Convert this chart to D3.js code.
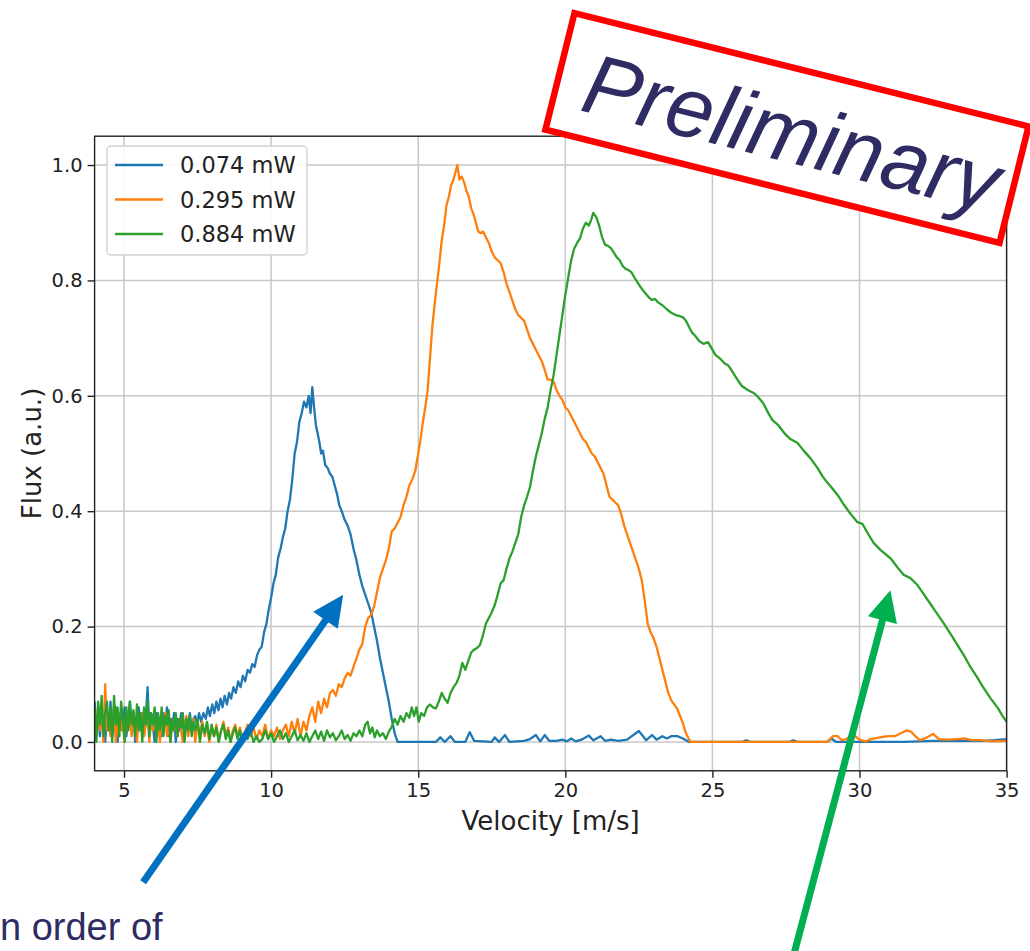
<!DOCTYPE html>
<html><head><meta charset="utf-8">
<script src="https://cdn.jsdelivr.net/npm/d3@7"></script>
<style>body{margin:0;background:#fff;overflow:hidden} svg{display:block}</style>
</head><body><svg id="c" width="1030" height="951"></svg>
<script>
// ---------------- data ----------------
const seriesLabels = ["0.074 mW", "0.295 mW", "0.884 mW"];
const seriesColors = ["#1f77b4", "#ff7f0e", "#2ca02c"];
const xTicks = [5, 10, 15, 20, 25, 30, 35];
const yTicks = [0.0, 0.2, 0.4, 0.6, 0.8, 1.0];
const xLabel = "Velocity [m/s]";
const yLabel = "Flux (a.u.)";

// [velocity, flux]
const flux074 = [
[4.00,0.07],[4.06,0.02],[4.12,0.05],[4.18,0.01],[4.24,0.06],[4.30,0.03],[4.36,0.00],[4.42,0.05],[4.48,0.02],[4.54,0.07],[4.60,0.01],[4.66,0.04],[4.72,0.06],[4.78,0.00],[4.84,0.03],[4.90,0.05],[4.96,0.02],[5.02,0.06],[5.08,0.01],[5.14,0.04],[5.20,0.07],[5.26,0.02],[5.32,0.05],[5.38,0.00],[5.44,0.04],[5.50,0.06],[5.56,0.02],[5.62,0.05],[5.68,0.01],[5.74,0.04],[5.80,0.095],[5.86,0.02],[5.92,0.05],[5.98,0.03],[6.04,0.00],[6.10,0.05],[6.16,0.02],[6.22,0.04],[6.28,0.01],[6.34,0.05],[6.40,0.03],[6.46,0.06],[6.52,0.01],[6.58,0.04],[6.64,0.02],[6.70,0.05],[6.76,0.00],[6.82,0.04],[6.88,0.02],[6.94,0.05],[7.00,0.03],[7.06,0.01],[7.12,0.04],[7.18,0.03],[7.24,0.05],[7.30,0.02],[7.36,0.04],
[7.42,0.045],[7.48,0.03],[7.55,0.05],[7.62,0.035],[7.70,0.05],[7.78,0.04],[7.85,0.06],[7.92,0.045],[8.00,0.065],[8.07,0.05],[8.14,0.07],[8.21,0.055],[8.28,0.075],[8.35,0.06],[8.42,0.08],[8.50,0.065],[8.57,0.085],[8.64,0.075],[8.72,0.095],[8.80,0.085],[8.88,0.105],[8.96,0.095],[9.04,0.115],[9.12,0.105],[9.20,0.125],[9.28,0.12],[9.36,0.135],[9.44,0.13],[9.52,0.15],[9.60,0.16],[9.68,0.165],[9.76,0.19],[9.84,0.205],[9.92,0.23],[10.00,0.25],[10.08,0.275],[10.16,0.29],[10.24,0.32],[10.32,0.335],[10.40,0.355],[10.48,0.37],[10.56,0.40],[10.64,0.42],[10.72,0.455],[10.80,0.50],[10.88,0.52],[10.96,0.555],[11.04,0.57],[11.12,0.59],[11.20,0.58],[11.28,0.60],[11.34,0.57],[11.40,0.615],[11.46,0.58],[11.52,0.55],[11.58,0.535],[11.64,0.52],[11.70,0.50],[11.76,0.505],[11.84,0.48],[11.92,0.475],[12.00,0.465],[12.08,0.46],[12.16,0.445],[12.24,0.43],[12.32,0.41],[12.40,0.40],[12.50,0.385],[12.60,0.375],[12.70,0.36],[12.80,0.335],[12.90,0.315],[13.00,0.29],[13.10,0.27],[13.20,0.255],[13.30,0.24],[13.40,0.225],[13.50,0.20],[13.60,0.175],[13.70,0.145],[13.80,0.12],[13.90,0.095],[14.00,0.07],[14.10,0.04],[14.20,0.015],[14.30,0.0],
[14.6,0],[15.0,0],[15.6,0],[15.75,0.008],[15.9,0],[16.1,0.01],[16.25,0],[16.6,0],[16.75,0.017],[16.9,0.002],[17.5,0],[17.6,0.008],[17.75,0],[17.95,0.012],[18.1,0],[18.6,0.002],[18.8,0.005],[19.0,0.012],[19.15,0.001],[19.3,0.012],[19.45,0.002],[19.7,0.002],[19.9,0.004],[20.05,0.001],[20.2,0.006],[20.35,0.001],[20.55,0.004],[20.8,0.011],[20.95,0.003],[21.2,0.01],[21.35,0.002],[21.55,0.004],[21.8,0.002],[22.1,0.004],[22.5,0.019],[22.75,0.003],[22.95,0.012],[23.1,0.004],[23.3,0.01],[23.45,0.006],[23.6,0.01],[23.8,0.01],[24.0,0.006],[24.2,0],[26.0,0],[26.15,0.003],[26.3,0],[27.6,0],[27.75,0.003],[27.9,0],[28.9,0],[29.05,0.006],[29.2,0],[31.5,0],[32.5,0.002],[34.2,0.002],[34.6,0.003],[35.0,0.005]
];

const flux295 = [
[4.00,0.04],[4.06,0.01],[4.12,0.06],[4.18,0.02],[4.24,0.05],[4.30,0.00],[4.36,0.10],[4.42,0.02],[4.48,0.05],[4.54,0.01],[4.60,0.04],[4.66,0.06],[4.72,0.00],[4.78,0.03],[4.84,0.05],[4.90,0.02],[4.96,0.04],[5.02,0.00],[5.08,0.05],[5.14,0.02],[5.20,0.04],[5.26,0.01],[5.32,0.05],[5.38,0.03],[5.44,0.00],[5.50,0.04],[5.56,0.02],[5.62,0.05],[5.68,0.01],[5.74,0.03],[5.80,0.05],[5.86,0.00],[5.92,0.04],[5.98,0.02],[6.04,0.045],[6.10,0.01],[6.16,0.035],[6.22,0.00],[6.28,0.04],[6.34,0.02],[6.40,0.05],[6.46,0.01],[6.52,0.03],[6.58,0.00],[6.64,0.04],[6.70,0.02],[6.76,0.035],[6.82,0.01],[6.88,0.04],[6.94,0.02],[7.00,0.00],[7.06,0.03],[7.12,0.045],[7.18,0.01],[7.24,0.03],[7.30,0.02],[7.36,0.04],[7.42,0.00],[7.50,0.03],[7.58,0.015],[7.66,0.035],[7.74,0.01],[7.82,0.03],[7.90,0.00],[7.98,0.025],[8.06,0.01],[8.14,0.03],[8.22,0.00],[8.30,0.02],[8.38,0.035],[8.46,0.01],[8.54,0.025],[8.62,0.00],[8.70,0.02],[8.78,0.03],[8.86,0.01],[8.94,0.025],[9.02,0.00],[9.10,0.015],[9.20,0.03],[9.30,0.01],[9.40,0.025],[9.50,0.005],[9.60,0.02],[9.70,0.01],[9.80,0.03],[9.90,0.005],[10.00,0.02],[10.10,0.01],[10.20,0.025],[10.30,0.005],[10.40,0.02],[10.50,0.03],[10.60,0.01],[10.70,0.035],[10.80,0.015],[10.90,0.04],[11.00,0.01],[11.10,0.035],[11.20,0.02],[11.30,0.045],
[11.40,0.06],[11.50,0.035],[11.60,0.07],[11.70,0.05],[11.80,0.075],[11.90,0.06],[12.00,0.085],[12.10,0.09],[12.20,0.08],[12.30,0.10],[12.40,0.095],[12.50,0.11],[12.60,0.12],[12.70,0.115],[12.80,0.13],[12.90,0.145],[13.00,0.16],[13.10,0.17],[13.20,0.20],[13.30,0.215],[13.40,0.22],[13.50,0.235],[13.60,0.26],[13.70,0.285],[13.80,0.30],[13.90,0.315],[14.00,0.335],[14.10,0.365],[14.20,0.37],[14.30,0.38],[14.40,0.39],[14.50,0.41],[14.60,0.425],[14.70,0.445],[14.80,0.455],[14.90,0.47],[15.00,0.50],[15.08,0.525],[15.16,0.555],[15.24,0.58],[15.32,0.61],[15.40,0.665],[15.48,0.72],[15.56,0.76],[15.64,0.795],[15.72,0.83],[15.80,0.87],[15.88,0.895],[15.96,0.93],[16.04,0.945],[16.12,0.965],[16.20,0.975],[16.28,0.99],[16.33,1.0],[16.40,0.975],[16.48,0.98],[16.56,0.97],[16.64,0.955],[16.72,0.945],[16.80,0.925],[16.88,0.915],[16.96,0.90],[17.04,0.885],[17.12,0.882],[17.20,0.885],[17.30,0.875],[17.40,0.865],[17.50,0.85],[17.60,0.84],[17.70,0.835],[17.80,0.83],[17.90,0.815],[18.00,0.795],[18.10,0.78],[18.20,0.765],[18.30,0.75],[18.40,0.74],[18.50,0.735],[18.60,0.73],[18.70,0.715],[18.80,0.70],[18.90,0.69],[19.00,0.68],[19.10,0.67],[19.20,0.66],[19.30,0.645],[19.40,0.628],[19.50,0.628],[19.60,0.625],[19.70,0.61],[19.80,0.60],[19.90,0.593],[20.00,0.58],[20.10,0.575],[20.20,0.565],[20.30,0.555],[20.40,0.545],[20.50,0.535],[20.60,0.525],[20.70,0.52],[20.80,0.51],[20.90,0.50],[21.00,0.495],[21.10,0.485],[21.20,0.475],[21.30,0.465],[21.40,0.445],[21.50,0.425],[21.60,0.42],[21.70,0.415],[21.80,0.41],[21.90,0.395],[22.00,0.375],[22.10,0.36],[22.20,0.345],[22.30,0.33],[22.40,0.315],[22.50,0.30],[22.60,0.28],[22.70,0.245],[22.80,0.205],[22.90,0.19],[23.00,0.18],[23.10,0.165],[23.20,0.145],[23.30,0.125],[23.40,0.105],[23.50,0.085],[23.60,0.072],[23.70,0.065],[23.80,0.058],[23.90,0.045],[24.00,0.032],[24.10,0.015],[24.25,0.0],
[25.0,0],[27.0,0],[28.9,0],[29.1,0.01],[29.25,0.01],[29.4,0.003],[29.55,0.005],[29.7,0.01],[29.85,0.01],[30.0,0.004],[30.2,0.001],[30.4,0.005],[30.6,0.007],[30.8,0.009],[31.0,0.01],[31.2,0.01],[31.4,0.015],[31.6,0.02],[31.75,0.018],[31.9,0.01],[32.05,0.003],[32.3,0.008],[32.5,0.014],[32.7,0.005],[33.0,0.004],[33.3,0.005],[33.6,0.006],[33.8,0.003],[34.1,0.003],[34.5,0.001],[35.0,0.002]
];

const flux884 = [
[4.00,0.06],[4.06,0.00],[4.12,0.07],[4.18,0.03],[4.24,0.08],[4.30,0.01],[4.36,0.05],[4.42,0.07],[4.48,0.02],[4.54,0.06],[4.60,0.00],[4.66,0.08],[4.72,0.03],[4.78,0.06],[4.84,0.01],[4.90,0.07],[4.96,0.04],[5.02,0.00],[5.08,0.06],[5.14,0.02],[5.20,0.07],[5.26,0.03],[5.32,0.055],[5.38,0.01],[5.44,0.065],[5.50,0.02],[5.56,0.05],[5.62,0.00],[5.68,0.06],[5.74,0.03],[5.80,0.07],[5.86,0.01],[5.92,0.05],[5.98,0.03],[6.04,0.06],[6.10,0.00],[6.16,0.05],[6.22,0.02],[6.28,0.06],[6.34,0.01],[6.40,0.045],[6.46,0.03],[6.52,0.055],[6.58,0.00],[6.64,0.04],[6.70,0.02],[6.76,0.05],[6.82,0.01],[6.88,0.04],[6.94,0.025],[7.00,0.05],[7.06,0.00],[7.12,0.04],[7.18,0.02],[7.24,0.045],[7.30,0.01],[7.36,0.035],[7.42,0.02],[7.50,0.04],[7.58,0.00],[7.66,0.03],[7.74,0.015],[7.82,0.035],[7.90,0.005],[7.98,0.03],[8.06,0.01],[8.14,0.025],[8.22,0.00],[8.30,0.02],[8.38,0.03],[8.46,0.005],[8.54,0.02],[8.62,0.00],[8.70,0.015],[8.78,0.025],[8.86,0.005],[8.94,0.02],[9.02,0.00],[9.10,0.015],[9.20,0.005],[9.30,0.02],[9.40,0.0],[9.50,0.01],[9.60,0.0],[9.70,0.005],[9.80,0.02],[9.90,0.005],[10.00,0.015],[10.10,0.0],[10.20,0.01],[10.30,0.02],[10.40,0.005],[10.50,0.015],[10.60,0.0],[10.70,0.01],[10.80,0.02],[10.90,0.003],[11.00,0.012],[11.10,0.002],[11.20,0.015],[11.30,0.0],[11.40,0.01],[11.50,0.02],[11.60,0.005],[11.70,0.018],[11.80,0.002],[11.90,0.02],[12.00,0.008],[12.10,0.015],[12.20,0.003],[12.30,0.01],[12.40,0.02],[12.50,0.005],[12.60,0.012],[12.70,0.002],[12.80,0.015],[12.90,0.01],[13.00,0.02],[13.10,0.01],[13.20,0.03],[13.28,0.035],[13.36,0.015],[13.44,0.025],[13.52,0.008],[13.60,0.02],[13.70,0.01],[13.80,0.015],[13.90,0.005],[14.00,0.018],[14.10,0.026],[14.20,0.04],[14.30,0.03],[14.40,0.045],[14.50,0.035],[14.60,0.05],[14.70,0.042],[14.78,0.06],[14.86,0.045],[14.94,0.06],[15.02,0.035],[15.10,0.05],[15.20,0.045],[15.30,0.06],[15.40,0.065],[15.50,0.06],[15.60,0.058],[15.70,0.07],[15.80,0.085],[15.90,0.075],[16.00,0.068],[16.10,0.085],[16.20,0.095],[16.30,0.102],[16.40,0.115],[16.50,0.137],[16.60,0.125],[16.70,0.14],[16.80,0.155],[16.90,0.16],[17.00,0.163],[17.10,0.168],[17.20,0.185],[17.30,0.205],[17.40,0.215],[17.50,0.225],[17.60,0.237],[17.70,0.255],[17.80,0.275],[17.90,0.28],[18.00,0.30],[18.10,0.318],[18.20,0.33],[18.30,0.345],[18.40,0.36],[18.50,0.39],[18.60,0.41],[18.70,0.425],[18.80,0.442],[18.90,0.47],[19.00,0.495],[19.10,0.515],[19.20,0.535],[19.30,0.56],[19.40,0.58],[19.50,0.61],[19.60,0.635],[19.70,0.67],[19.80,0.705],[19.90,0.74],[20.00,0.775],[20.10,0.805],[20.20,0.835],[20.30,0.855],[20.40,0.865],[20.50,0.873],[20.60,0.89],[20.70,0.90],[20.80,0.895],[20.88,0.905],[20.95,0.917],[21.05,0.91],[21.15,0.895],[21.25,0.875],[21.35,0.862],[21.45,0.86],[21.55,0.856],[21.65,0.848],[21.75,0.84],[21.85,0.835],[21.95,0.825],[22.05,0.82],[22.15,0.818],[22.25,0.814],[22.35,0.805],[22.45,0.797],[22.55,0.789],[22.65,0.782],[22.75,0.776],[22.85,0.77],[22.95,0.766],[23.05,0.768],[23.15,0.762],[23.30,0.757],[23.45,0.75],[23.60,0.744],[23.75,0.74],[23.90,0.738],[24.00,0.736],[24.10,0.73],[24.20,0.72],[24.30,0.71],[24.40,0.705],[24.55,0.695],[24.70,0.69],[24.85,0.693],[25.00,0.68],[25.10,0.671],[25.25,0.665],[25.40,0.657],[25.55,0.652],[25.70,0.64],[25.85,0.628],[26.00,0.617],[26.20,0.61],[26.40,0.605],[26.55,0.598],[26.73,0.587],[26.90,0.57],[27.04,0.558],[27.24,0.549],[27.45,0.535],[27.65,0.525],[27.90,0.518],[28.10,0.505],[28.33,0.492],[28.57,0.475],[28.75,0.46],[28.90,0.45],[29.10,0.438],[29.30,0.425],[29.46,0.412],[29.70,0.395],[29.93,0.381],[30.10,0.378],[30.30,0.36],[30.48,0.345],[30.71,0.333],[31.06,0.318],[31.30,0.302],[31.50,0.29],[31.73,0.284],[31.97,0.272],[32.20,0.255],[32.40,0.24],[32.60,0.225],[32.86,0.206],[33.10,0.187],[33.33,0.168],[33.55,0.15],[33.77,0.13],[34.00,0.112],[34.20,0.095],[34.45,0.076],[34.70,0.059],[34.85,0.046],[35.00,0.035]
];

const seriesData = [flux074, flux295, flux884];

// annotation arrows in data coordinates: [tailV, tailF, tipV, tipF]
const arrowBlue = [5.65, -0.243, 12.45, 0.255];
const arrowGreen = [27.5, -0.42, 31.05, 0.263];
const stampText = "Preliminary";
const bottomText = "n order of";

// ---------------- drawing ----------------
const svg = d3.select("#c");
const x = d3.scaleLinear().domain([4, 35]).range([94.6, 1006.6]);
const y = d3.scaleLinear().domain([-0.05, 1.05]).range([770.8, 136.2]);
const [L, R] = x.range();
const [B, T] = y.range();

svg.append("defs").append("clipPath").attr("id", "clip")
  .append("rect").attr("x", L).attr("y", T).attr("width", R - L).attr("height", B - T);

// grid
const grid = svg.append("g");
grid.selectAll("line.gx").data(xTicks).join("line")
  .attr("x1", d => x(d)).attr("x2", d => x(d)).attr("y1", T).attr("y2", B)
  .attr("stroke", "#c8c8c8").attr("stroke-width", 1.5);
grid.selectAll("line.gy").data(yTicks).join("line")
  .attr("y1", d => y(d)).attr("y2", d => y(d)).attr("x1", L).attr("x2", R)
  .attr("stroke", "#c8c8c8").attr("stroke-width", 1.5);

// lines
const line = d3.line().x(d => x(d[0])).y(d => y(d[1]));
const lines = svg.append("g").attr("clip-path", "url(#clip)");
seriesData.forEach((s, i) => {
  lines.append("path").datum(s).attr("d", line)
    .attr("fill", "none").attr("stroke", seriesColors[i])
    .attr("stroke-width", 2.3).attr("stroke-linejoin", "round");
});

// axes
const fontTick = "19.5px 'DejaVu Sans'";
const xAxis = svg.append("g").attr("transform", `translate(0,${B})`)
  .call(d3.axisBottom(x).tickValues(xTicks).tickFormat(d3.format("d")).tickSize(7).tickPadding(5));
const yAxis = svg.append("g").attr("transform", `translate(${L},0)`)
  .call(d3.axisLeft(y).tickValues(yTicks).tickFormat(d3.format(".1f")).tickSize(7).tickPadding(5));
[xAxis, yAxis].forEach(a => {
  a.select(".domain").remove();
  a.selectAll(".tick line").attr("stroke", "#222").attr("stroke-width", 1.4);
  a.selectAll(".tick text").attr("fill", "#222").style("font", fontTick);
});

// spines
svg.append("rect").attr("x", L).attr("y", T).attr("width", R - L).attr("height", B - T)
  .attr("fill", "none").attr("stroke", "#222").attr("stroke-width", 1.4);

// axis labels
svg.append("text").attr("x", (L + R) / 2).attr("y", 830).attr("text-anchor", "middle")
  .style("font", "26px 'DejaVu Sans'").attr("fill", "#222").text(xLabel);
svg.append("text").attr("transform", `translate(41,${(T + B) / 2}) rotate(-90)`)
  .attr("text-anchor", "middle").style("font", "26px 'DejaVu Sans'").attr("fill", "#222").text(yLabel);

// legend
const lg = svg.append("g");
lg.append("rect").attr("x", 107).attr("y", 146).attr("width", 200).attr("height", 109).attr("rx", 4)
  .attr("fill", "#fff").attr("fill-opacity", 0.85).attr("stroke", "#d0d0d0").attr("stroke-width", 1.3);
seriesLabels.forEach((lab, i) => {
  const yy = 165 + i * 34.5;
  lg.append("line").attr("x1", 115).attr("x2", 163).attr("y1", yy).attr("y2", yy)
    .attr("stroke", seriesColors[i]).attr("stroke-width", 2.3);
  lg.append("text").attr("x", 180).attr("y", yy + 8).style("font", "22.5px 'DejaVu Sans'")
    .attr("fill", "#222").text(lab);
});

// arrows
function arrow(a, color) {
  const x1 = x(a[0]), y1 = y(a[1]), x2 = x(a[2]), y2 = y(a[3]);
  const dx = x2 - x1, dy = y2 - y1, len = Math.hypot(dx, dy);
  const ux = dx / len, uy = dy / len, px = -uy, py = ux;
  const hl = 31, hw = 15;
  const bx = x2 - ux * hl, by = y2 - uy * hl;
  svg.append("line").attr("x1", x1).attr("y1", y1).attr("x2", bx + ux * 2).attr("y2", by + uy * 2)
    .attr("stroke", color).attr("stroke-width", 7);
  svg.append("polygon").attr("points",
    `${x2},${y2} ${bx + px * hw},${by + py * hw} ${bx - px * hw},${by - py * hw}`).attr("fill", color);
}
arrow(arrowBlue, "#0070c0");
arrow(arrowGreen, "#00b050");

// bottom text
svg.append("text").attr("x", 0).attr("y", 940).style("font", "38px 'Liberation Sans'")
  .attr("fill", "#2e2c62").text(bottomText);

// preliminary stamp
const st = svg.append("g").attr("transform", "translate(787,128) rotate(14)");
st.append("rect").attr("x", -234).attr("y", -60).attr("width", 468).attr("height", 120)
  .attr("fill", "#fff").attr("stroke", "#ff0000").attr("stroke-width", 6.5);
st.append("text").attr("x", 6).attr("y", 33).attr("text-anchor", "middle")
  .style("font", "italic 85px 'Liberation Sans'").attr("fill", "#2e2c62").text(stampText);
</script>
</body></html>
